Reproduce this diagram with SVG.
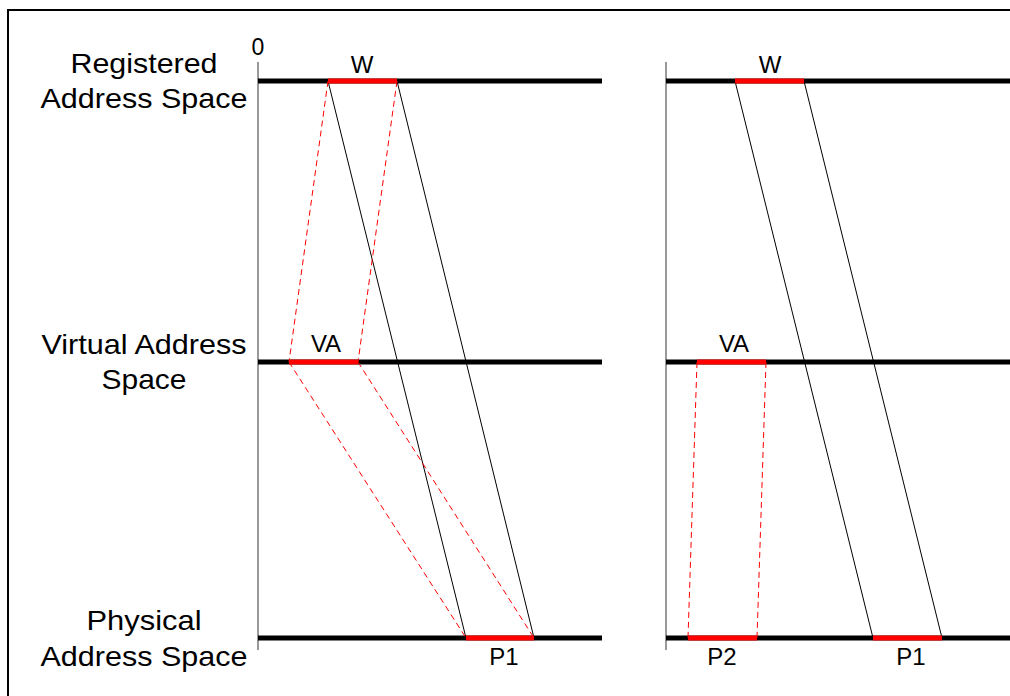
<svg xmlns="http://www.w3.org/2000/svg" width="1010" height="696" viewBox="0 0 1010 696">
<style>
.lbl{font-family:"Liberation Sans",Arial,sans-serif;font-size:28px;fill:#000;text-anchor:middle}
.sm{font-family:"Liberation Sans",Arial,sans-serif;font-size:24px;fill:#000;text-anchor:middle}
.zero{font-family:"Liberation Sans",Arial,sans-serif;font-size:23px;fill:#000;text-anchor:middle}
.axis{stroke:#555;stroke-width:1.2;fill:none}
.bar{stroke:#000;stroke-width:5;fill:none}
.seg{stroke:#ff0000;stroke-width:5;fill:none}
.map{stroke:#000;stroke-width:1;fill:none}
.dash{stroke:#ff0000;stroke-width:1;stroke-dasharray:6,4;fill:none}
</style>
<rect x="0" y="0" width="1010" height="696" fill="#fff"/>
<rect x="8" y="10" width="1020" height="710" fill="none" stroke="#000" stroke-width="2"/>
<g id="labels">
<text class="lbl" x="144" y="73" textLength="147" lengthAdjust="spacingAndGlyphs">Registered</text>
<text class="lbl" x="144" y="108" textLength="207" lengthAdjust="spacingAndGlyphs">Address Space</text>
<text class="lbl" x="144" y="354" textLength="205" lengthAdjust="spacingAndGlyphs">Virtual Address</text>
<text class="lbl" x="144" y="389" textLength="85" lengthAdjust="spacingAndGlyphs">Space</text>
<text class="lbl" x="144" y="630" textLength="115" lengthAdjust="spacingAndGlyphs">Physical</text>
<text class="lbl" x="144" y="666" textLength="207" lengthAdjust="spacingAndGlyphs">Address Space</text>
<text class="zero" x="258" y="55">0</text>
</g>
<g id="left-panel">
<line class="axis" x1="258" y1="62" x2="258" y2="650"/>
<line class="bar" x1="258" y1="81" x2="602" y2="81"/>
<line class="bar" x1="258" y1="362" x2="602" y2="362"/>
<line class="bar" x1="258" y1="638" x2="602" y2="638"/>
</g>
<g id="right-panel">
<line class="axis" x1="666" y1="62" x2="666" y2="650"/>
<line class="bar" x1="666" y1="81" x2="1010" y2="81"/>
<line class="bar" x1="666" y1="362" x2="1010" y2="362"/>
<line class="bar" x1="666" y1="638" x2="1010" y2="638"/>
</g>
<g id="connectors">
<line class="map" x1="328" y1="81" x2="466" y2="638"/>
<line class="map" x1="397" y1="81" x2="534" y2="638"/>
<line class="dash" x1="328" y1="81" x2="289" y2="362"/>
<line class="dash" x1="397" y1="81" x2="358" y2="362"/>
<line class="dash" x1="289" y1="362" x2="466" y2="638"/>
<line class="dash" x1="358" y1="362" x2="534" y2="638"/>
<line class="map" x1="735" y1="81" x2="873" y2="638"/>
<line class="map" x1="804" y1="81" x2="942" y2="638"/>
<line class="dash" x1="697" y1="362" x2="688" y2="638"/>
<line class="dash" x1="766" y1="362" x2="757" y2="638"/>
</g>
<g id="node-W-left">
<line class="seg" x1="328" y1="81" x2="397" y2="81"/>
<text class="sm" x="362" y="73">W</text>
</g>
<g id="node-VA-left">
<line class="seg" x1="289" y1="362" x2="358" y2="362"/>
<text class="sm" x="326" y="352">VA</text>
</g>
<g id="node-P1-left">
<line class="seg" x1="466" y1="638" x2="534" y2="638"/>
<text class="sm" x="504" y="665">P1</text>
</g>
<g id="node-W-right">
<line class="seg" x1="735" y1="81" x2="804" y2="81"/>
<text class="sm" x="770" y="73">W</text>
</g>
<g id="node-VA-right">
<line class="seg" x1="697" y1="362" x2="766" y2="362"/>
<text class="sm" x="734" y="352">VA</text>
</g>
<g id="node-P2-right">
<line class="seg" x1="688" y1="638" x2="757" y2="638"/>
<text class="sm" x="722" y="665">P2</text>
</g>
<g id="node-P1-right">
<line class="seg" x1="873" y1="638" x2="942" y2="638"/>
<text class="sm" x="911" y="665">P1</text>
</g>
</svg>
